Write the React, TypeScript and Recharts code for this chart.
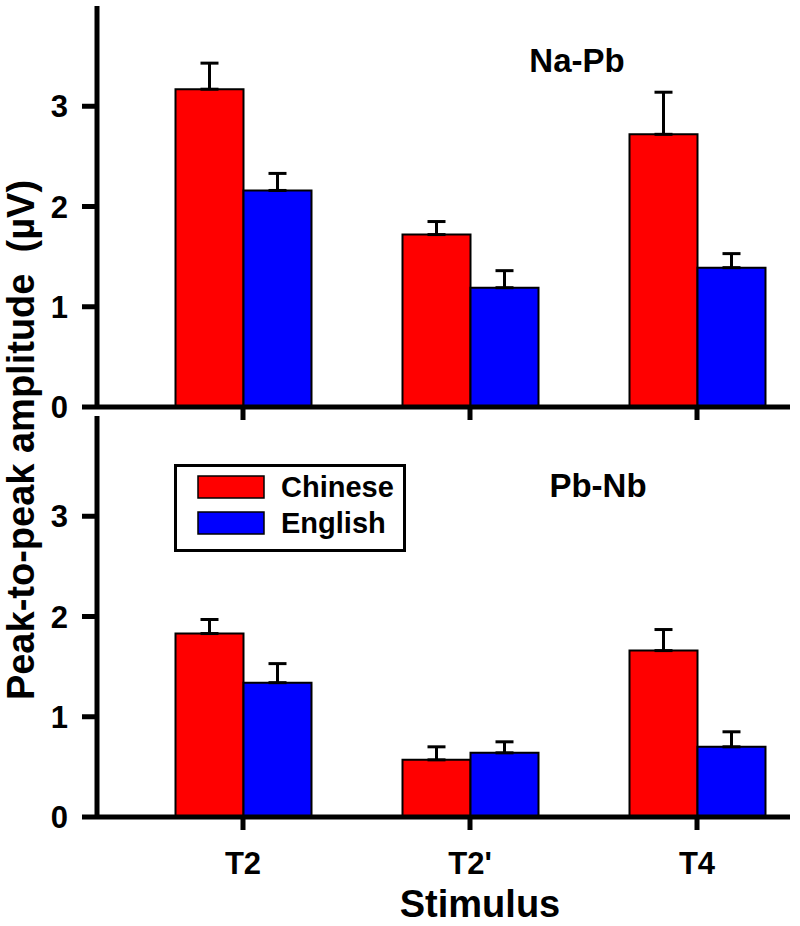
import React from "react";
import { Bar, BarChart, ErrorBar, Legend, XAxis, YAxis } from "recharts";

const stimuli = ["T2", "T2'", "T4"];
const yTicks = [0, 1, 2, 3];

// Na-Pb panel (upper)
const naPbChinese = [3.17, 1.72, 2.72];
const naPbChineseSem = [0.26, 0.13, 0.42];
const naPbEnglish = [2.16, 1.19, 1.39];
const naPbEnglishSem = [0.17, 0.17, 0.14];

// Pb-Nb panel (lower)
const pbNbChinese = [1.83, 0.57, 1.66];
const pbNbChineseSem = [0.14, 0.13, 0.21];
const pbNbEnglish = [1.34, 0.64, 0.7];
const pbNbEnglishSem = [0.19, 0.11, 0.15];

const RED = "#ff0000";
const BLUE = "#0000ff";
const FONT = "'Liberation Sans', Arial, sans-serif";

const rows = (c: number[], cs: number[], e: number[], es: number[]) =>
  stimuli.map((s, i) => ({
    stimulus: s,
    chinese: c[i],
    english: e[i],
    chineseErr: [0, cs[i]],
    englishErr: [0, es[i]],
  }));

const naPbData = rows(naPbChinese, naPbChineseSem, naPbEnglish, naPbEnglishSem);
const pbNbData = rows(pbNbChinese, pbNbChineseSem, pbNbEnglish, pbNbEnglishSem);

const axisLine = { stroke: "#000", strokeWidth: 5 };
const tickLine = { stroke: "#000", strokeWidth: 5 };
const tickFont = { fill: "#000", fontSize: 31, fontWeight: 700, fontFamily: FONT };

function LegendBox(props: any) {
  const items = props.payload || [];
  return (
    <svg width={232} height={88} style={{ display: "block" }}>
      <rect x={1.5} y={1.5} width={229} height={85} fill="#fff" stroke="#000" strokeWidth={3} />
      {items.map((it: any, i: number) => (
        <g key={it.value}>
          <rect x={24} y={12 + i * 36} width={66} height={22} fill={it.color} stroke="#000" strokeWidth={1.5} />
          <text x={107} y={33 + i * 36} fontSize={29} fontWeight={700} fontFamily={FONT} fill="#000">
            {it.value}
          </text>
        </g>
      ))}
    </svg>
  );
}

function Panel({ data, height, showLabels, legend }: { data: any[]; height: number; showLabels: boolean; legend?: boolean }) {
  return (
    <BarChart
      width={800}
      height={height}
      data={data}
      margin={{ top: 6, right: 10, left: 0, bottom: showLabels ? 49 : 0 }}
      barGap={0}
      barSize={68}
    >
      <XAxis
        dataKey="stimulus"
        height={showLabels ? 60 : 23}
        padding={{ left: 32.5, right: -20.5 }}
        axisLine={axisLine}
        tickLine={tickLine}
        tickSize={13}
        tickMargin={22}
        tick={tickFont}
        tickFormatter={(v: string) => (showLabels ? v : "")}
      />
      <YAxis
        width={97}
        domain={[0, 4]}
        ticks={yTicks}
        allowDataOverflow
        axisLine={axisLine}
        tickLine={tickLine}
        tickSize={15}
        tickMargin={14}
        tick={tickFont}
      />
      {legend && (
        <Legend
          layout="horizontal"
          verticalAlign="middle"
          align="center"
          content={<LegendBox />}
          wrapperStyle={{ left: 174, top: 54, width: 232, height: 88 }}
        />
      )}
      <Bar dataKey="chinese" name="Chinese" fill={RED} stroke="#000" strokeWidth={2} isAnimationActive={false}>
        <ErrorBar dataKey="chineseErr" direction="y" width={9} stroke="#000" strokeWidth={3} isAnimationActive={false} />
      </Bar>
      <Bar dataKey="english" name="English" fill={BLUE} stroke="#000" strokeWidth={2} isAnimationActive={false}>
        <ErrorBar dataKey="englishErr" direction="y" width={9} stroke="#000" strokeWidth={3} isAnimationActive={false} />
      </Bar>
    </BarChart>
  );
}

export default function App() {
  return (
    <div style={{ position: "absolute", left: 0, top: 0, width: 800, height: 926, background: "#fff", fontFamily: FONT }}>
      <div style={{ position: "absolute", left: 0, top: 0 }}>
        <Panel data={naPbData} height={430} showLabels={false} />
      </div>
      <div style={{ position: "absolute", left: 0, top: 410 }}>
        <Panel data={pbNbData} height={516} showLabels legend />
      </div>
      <svg width={800} height={926} style={{ position: "absolute", left: 0, top: 0, pointerEvents: "none" }}>
        <g fontFamily={FONT} fontWeight={700} fill="#000">
          <text x={577} y={72} fontSize={33} textAnchor="middle">Na-Pb</text>
          <text x={598} y={497} fontSize={33} textAnchor="middle">Pb-Nb</text>
          <text x={480} y={917} fontSize={38} textAnchor="middle">Stimulus</text>
          <text transform="translate(34,440) rotate(-90)" fontSize={38} textAnchor="middle" style={{ whiteSpace: "pre" }}>
            {"Peak-to-peak amplitude  (\u00b5V)"}
          </text>
        </g>
      </svg>
    </div>
  );
}
